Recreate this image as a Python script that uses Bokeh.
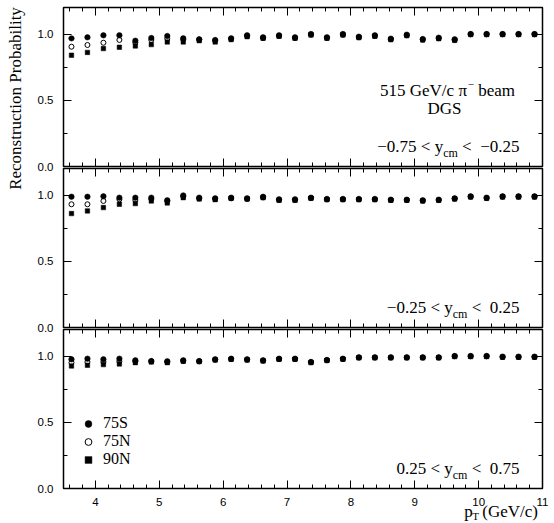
import math
from bokeh.plotting import figure
from bokeh.models import (Range1d, LinearAxis, FixedTicker, PrintfTickFormatter,
                          Label, Legend, LegendItem, CustomLabelingPolicy)
from bokeh.layouts import column, row
from bokeh.embed import file_html
from bokeh.resources import INLINE

# ---------------- data ----------------
pt = [3.625, 3.875, 4.125, 4.375, 4.625, 4.875, 5.125, 5.375, 5.625, 5.875,
      6.125, 6.375, 6.625, 6.875, 7.125, 7.375, 7.625, 7.875, 8.125, 8.375,
      8.625, 8.875, 9.125, 9.375, 9.625, 9.875, 10.125, 10.375, 10.625, 10.875]

top_75S = [0.967, 0.975, 0.990, 0.990, 0.950, 0.970, 0.985, 0.967, 0.960, 0.955,
           0.967, 0.990, 0.975, 0.990, 0.975, 1.000, 0.975, 1.000, 0.980, 0.990,
           0.965, 0.995, 0.962, 0.972, 0.960, 1.000, 1.000, 1.000, 1.000, 1.000]
top_75N = [0.904, 0.917, 0.934, 0.955, 0.935, 0.955, 0.965, 0.960, 0.958, 0.950,
           0.962, 0.985, 0.970, 0.985, 0.970, 0.995, 0.970, 0.995, 0.975, 0.985,
           0.960, 0.990, 0.958, 0.968, 0.955, 0.998, 0.998, 0.998, 0.998, 0.998]
top_90N = [0.840, 0.861, 0.890, 0.900, 0.910, 0.920, 0.940, 0.940, 0.950, 0.940,
           0.958, 0.980, 0.968, 0.983, 0.968, 0.993, 0.968, 0.993, 0.973, 0.983,
           0.958, 0.988, 0.955, 0.965, 0.952, 0.996, 0.996, 0.996, 0.996, 0.996]

mid_75S = [0.987, 0.987, 0.990, 0.980, 0.980, 0.980, 0.960, 0.997, 0.980, 0.975,
           0.980, 0.975, 0.987, 0.967, 0.967, 0.980, 0.970, 0.970, 0.970, 0.970,
           0.965, 0.965, 0.960, 0.965, 0.975, 0.990, 0.980, 0.990, 0.990, 0.990]
mid_75N = [0.930, 0.930, 0.955, 0.967, 0.962, 0.970, 0.955, 0.990, 0.975, 0.970,
           0.975, 0.970, 0.982, 0.963, 0.963, 0.977, 0.967, 0.967, 0.967, 0.967,
           0.962, 0.962, 0.957, 0.962, 0.972, 0.987, 0.977, 0.987, 0.987, 0.987]
mid_90N = [0.860, 0.880, 0.905, 0.930, 0.935, 0.955, 0.940, 0.980, 0.970, 0.965,
           0.975, 0.970, 0.980, 0.960, 0.960, 0.975, 0.965, 0.965, 0.965, 0.965,
           0.960, 0.960, 0.955, 0.960, 0.970, 0.985, 0.975, 0.985, 0.985, 0.985]

bot_75S = [0.975, 0.980, 0.975, 0.980, 0.967, 0.962, 0.960, 0.967, 0.962, 0.975,
           0.980, 0.975, 0.967, 0.980, 0.980, 0.955, 0.970, 0.980, 0.990, 0.990,
           0.990, 0.990, 0.990, 0.990, 1.000, 1.000, 1.000, 0.995, 0.995, 0.995]
bot_75N = [0.950, 0.955, 0.955, 0.960, 0.960, 0.960, 0.955, 0.963, 0.960, 0.972,
           0.977, 0.972, 0.965, 0.977, 0.977, 0.953, 0.968, 0.978, 0.988, 0.988,
           0.988, 0.988, 0.988, 0.988, 0.998, 0.998, 0.998, 0.993, 0.993, 0.993]
bot_90N = [0.925, 0.930, 0.935, 0.940, 0.950, 0.955, 0.950, 0.960, 0.958, 0.970,
           0.975, 0.970, 0.963, 0.975, 0.975, 0.950, 0.966, 0.976, 0.986, 0.986,
           0.986, 0.986, 0.986, 0.986, 0.996, 0.996, 0.996, 0.991, 0.991, 0.991]

series_names = ["75S", "75N", "90N"]
x_major = [4, 5, 6, 7, 8, 9, 10, 11]
x_minor = [round(i / 5, 1) for i in range(18, 55) if i % 5 != 0]
y_major = [0.0, 0.5, 1.0]
y_minor = [0.25, 0.75]

# ---------------- geometry ----------------
X0, X1 = 3.5, 11.0
Y0, Y1 = 0.0, 1.2
TW = 30            # width of the y-title strip
BL, BR = 33, 10    # panel borders left / right
FW, FH = 479, 159
PW = BL + FW + BR
PPX = FW / (X1 - X0)
PPY = FH / (Y1 - Y0)
SERIF = "Liberation Serif"
SANS = "Liberation Sans"

ADV = {' ': .25, '0': .5, '1': .5, '2': .5, '3': .5, '4': .5, '5': .5, '6': .5,
       '7': .5, '8': .5, '9': .5, '<': .564, '\u2212': .564, '.': .25, 'y': .5,
       'c': .444, 'm': .778, 'p': .5, 'T': .611, '(': .333, ')': .333, 'G': .722,
       'e': .444, 'V': .722, '/': .278, '\u03c0': .549, 'b': .5, 'a': .444}


def tw(s, size):
    return size * sum(ADV.get(ch, 0.5) for ch in s)


def total_w(parts):
    return sum(tw(t, s) for t, s, _ in parts)


def place(p, x_left, y, parts, ppx, ppy):
    x = x_left
    for text, size, dy in parts:
        lead = len(text) - len(text.lstrip())
        core = text.strip()
        xl = x + tw(text[:lead], size) / ppx
        p.add_layout(Label(x=xl, y=y - dy / ppy, text=core, text_align="left",
                           text_baseline="middle", text_font=SERIF,
                           text_font_size=f"{size}px", text_color="black"))
        x += tw(text, size) / ppx


NO_LABELS = CustomLabelingPolicy(
    code="for (let i = 0; i < indices.size; i++) { indices.unset(i) }\nreturn indices")


def style_axis(ax, show_labels, standoff):
    ax.axis_line_color = None
    ax.major_tick_in = 8
    ax.major_tick_out = 0
    ax.minor_tick_in = 4
    ax.minor_tick_out = 0
    ax.major_tick_line_color = "black"
    ax.minor_tick_line_color = "black"
    ax.major_tick_line_width = 1
    ax.minor_tick_line_width = 1
    if show_labels:
        ax.major_label_text_font = SANS
        ax.major_label_text_font_size = "11.5px"
        ax.major_label_text_color = "black"
        ax.major_label_standoff = standoff
    else:
        ax.major_label_text_font_size = "0px"
        ax.major_label_standoff = 0
        ax.major_label_policy = NO_LABELS


def blank_fig(w, h, xr, yr):
    f = figure(width=w, height=h, x_range=xr, y_range=yr, output_backend="svg",
               toolbar_location=None, x_axis_location=None, y_axis_location=None,
               min_border=0, min_border_left=0, min_border_right=0,
               min_border_top=0, min_border_bottom=0)
    f.xgrid.grid_line_color = None
    f.ygrid.grid_line_color = None
    f.outline_line_color = None
    f.background_fill_alpha = 0
    f.border_fill_alpha = 0
    return f


def make_panel(s75S, s75N, s90N, mbt, mbb, show_x_labels, margin):
    p = figure(width=PW, height=mbt + FH + mbb,
               x_range=Range1d(X0, X1), y_range=Range1d(Y0, Y1),
               output_backend="svg", toolbar_location=None,
               x_axis_location=None, y_axis_location=None,
               min_border_left=BL, min_border_right=BR,
               min_border_top=mbt, min_border_bottom=mbb)
    p.xgrid.grid_line_color = None
    p.ygrid.grid_line_color = None
    p.background_fill_alpha = 0
    p.border_fill_alpha = 0
    p.outline_line_color = "black"
    p.outline_line_width = 1.5
    p.margin = margin

    xt = FixedTicker(ticks=x_major, minor_ticks=x_minor)
    yt = FixedTicker(ticks=y_major, minor_ticks=y_minor)
    left = LinearAxis(ticker=yt, formatter=PrintfTickFormatter(format="%.1f"))
    style_axis(left, True, 10)
    right = LinearAxis(ticker=yt)
    style_axis(right, False, 0)
    above = LinearAxis(ticker=xt)
    style_axis(above, False, 0)
    below = LinearAxis(ticker=xt)
    style_axis(below, show_x_labels, 9)
    p.add_layout(left, "left")
    p.add_layout(right, "right")
    p.add_layout(above, "above")
    p.add_layout(below, "below")

    r90 = p.scatter(pt, s90N, marker="square", size=4.5, fill_color="black",
                    line_color="black", line_width=0.5)
    r75n = p.scatter(pt, s75N, marker="circle", size=5, fill_color=None,
                     line_color="black", line_width=1)
    r75s = p.scatter(pt, s75S, marker="circle", size=5.5, fill_color="black",
                     line_color="black", line_width=0.5)
    return p, (r75s, r75n, r90)


p1, _ = make_panel(top_75S, top_75N, top_90N, 7, 8, False, (0, 0, 0, 0))
p2, _ = make_panel(mid_75S, mid_75N, mid_90N, 1, 8, False, (-7, 0, 0, 0))
p3, rs = make_panel(bot_75S, bot_75N, bot_90N, 1, 22, True, (-7, 0, 0, 0))

# x-axis title strip (pixel coordinates, aligned with the panels)
XT_H, XT_OVER = 20, 8
xt_fig = blank_fig(PW, XT_H, Range1d(0, PW), Range1d(0, XT_H))
xt_fig.margin = (-XT_OVER, 0, 0, 0)
xt_parts = [("p", 17, 0), ("T", 11, 4), (" (GeV/c)", 17, 0)]
place(xt_fig, (BL + FW) - total_w(xt_parts), 11, xt_parts, 1.0, 1.0)

col = column(p1, p2, p3, xt_fig)
TOTAL_H = (7 + FH + 8) + (1 + FH + 8 - 7) + (1 + FH + 22 - 7) + (XT_H - XT_OVER)

# y-axis title strip (pixel coordinates, y growing downward)
yt_fig = blank_fig(TW, TOTAL_H, Range1d(0, TW), Range1d(TOTAL_H, 0))
yt_fig.add_layout(Label(x=15, y=98, text="Reconstruction Probability",
                        angle=math.pi / 2, text_align="center", text_baseline="middle",
                        text_font=SERIF, text_font_size="17px", text_color="black"))

# beam annotation (top panel)
beam_parts = [("515 GeV/c \u03c0", 17, 0), ("\u2212", 11, -6), (" beam", 17, 0)]
cx = X0 + (447 - 63) / PPX
place(p1, cx - total_w(beam_parts) / 2 / PPX, 0.574, beam_parts, PPX, PPY)
p1.add_layout(Label(x=X0 + (444 - 63) / PPX, y=0.438, text="DGS", text_align="center",
                    text_baseline="middle", text_font=SERIF,
                    text_font_size="17px", text_color="black"))

# rapidity ranges
x_right = X0 + (519 - 63) / PPX
ranges = [(p1, "\u22120.75", "\u22120.25"), (p2, "\u22120.25", "0.25"), (p3, "0.25", "0.75")]
for p, lo, hi in ranges:
    parts = [(lo + " < y", 17, 0), ("cm", 12, 6), (" <", 17, 0), ("  " + hi, 17, 0)]
    place(p, x_right - total_w(parts) / PPX, 0.15, parts, PPX, PPY)

# legend (bottom panel)
legend = Legend(items=[LegendItem(label=n, renderers=[r]) for n, r in zip(series_names, rs)],
                location=(16, 20), orientation="vertical",
                border_line_color=None, background_fill_alpha=0,
                label_text_font=SERIF, label_text_font_size="16px",
                label_text_color="black",
                glyph_height=17, glyph_width=18, label_height=17,
                label_standoff=6, spacing=-1, padding=0, margin=0)
p3.add_layout(legend)

layout = row(yt_fig, col)
open("out.html", "w").write(file_html(layout, INLINE, title="Reconstruction Probability"))
